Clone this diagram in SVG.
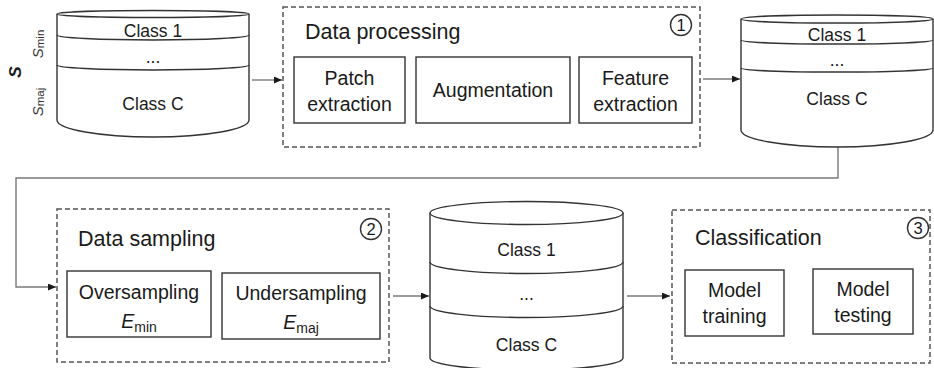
<svg xmlns="http://www.w3.org/2000/svg" width="934" height="368" viewBox="0 0 934 368">
<defs>
<style>
text{font-family:"Liberation Sans",Arial,sans-serif;fill:#1a1a1a}
.lbl{font-size:19.5px;text-anchor:middle}
.cls{font-size:17.5px;text-anchor:middle}
.ttl{font-size:21.5px}
.num{font-size:16.5px;text-anchor:middle}
.box{fill:#fff;stroke:#333;stroke-width:1.4}
.dash{fill:none;stroke:#555;stroke-width:1.5;stroke-dasharray:5 3}
.cyl{fill:#fff;stroke:#333;stroke-width:1.4}
.div{fill:none;stroke:#333;stroke-width:1.4}
.circ{fill:none;stroke:#333;stroke-width:1.4}
.con{fill:none;stroke:#7a7a7a;stroke-width:1.4}
</style>
<marker id="ah" markerUnits="userSpaceOnUse" markerWidth="9" markerHeight="8" refX="8" refY="3.5" orient="auto">
<path d="M0,0 L8,3.5 L0,7 z" fill="#1a1a1a"/>
</marker>
</defs>
<rect width="934" height="368" fill="#fff"/>

<g id="connectors">
<path class="con" d="M252,80 H282" marker-end="url(#ah)"/>
<path class="con" d="M703,79 H740" marker-end="url(#ah)"/>
<path class="con" d="M838,147 V178 H16 V287 H56" marker-end="url(#ah)"/>
<path class="con" d="M393,296 H429" marker-end="url(#ah)"/>
<path class="con" d="M627,296 H670" marker-end="url(#ah)"/>
</g>

<g id="labels-s">
<text transform="translate(21,72) rotate(-90)" style="font-size:17px;font-weight:bold;font-style:italic;text-anchor:middle">S</text>
<text transform="translate(43,44) rotate(-90)" style="font-size:15px;text-anchor:middle;fill:#333"><tspan font-style="italic">S</tspan><tspan font-size="11.5" dy="1">min</tspan></text>
<text transform="translate(43,102) rotate(-90)" style="font-size:15px;text-anchor:middle;fill:#333"><tspan font-style="italic">S</tspan><tspan font-size="11.5" dy="1">maj</tspan></text>
</g>

<g id="dataset-1">
<path class="cyl" d="M57,14 V120 A96,17 0 0 0 249,120 V14"/>
<ellipse class="cyl" cx="153" cy="14" rx="96" ry="3.5"/>
<path class="div" d="M57,35 A96,5 0 0 0 249,35"/>
<path class="div" d="M57,65 A96,5 0 0 0 249,65"/>
<text class="cls" x="153" y="37">Class 1</text>
<text class="cls" x="153" y="63">...</text>
<text class="cls" x="153" y="110">Class C</text>
</g>

<g id="data-processing">
<rect class="dash" x="283" y="7" width="417" height="140"/>
<text class="ttl" x="305" y="39">Data processing</text>
<circle class="circ" cx="681" cy="25" r="10.5"/>
<text class="num" x="681" y="31">1</text>
</g>
<g id="patch-extraction">
<rect class="box" x="294" y="57" width="111" height="66"/>
<text class="lbl" x="349.5" y="85">Patch</text>
<text class="lbl" x="349.5" y="111">extraction</text>
</g>
<g id="augmentation">
<rect class="box" x="416" y="57" width="154" height="66"/>
<text class="lbl" x="493" y="97">Augmentation</text>
</g>
<g id="feature-extraction">
<rect class="box" x="579" y="57" width="113" height="66"/>
<text class="lbl" x="635.5" y="85">Feature</text>
<text class="lbl" x="635.5" y="111">extraction</text>
</g>

<g id="dataset-2">
<path class="cyl" d="M741,19 V130 A96,17 0 0 0 933,130 V19"/>
<ellipse class="cyl" cx="837" cy="19" rx="96" ry="4"/>
<path class="div" d="M741,40 A96,4 0 0 0 933,40"/>
<path class="div" d="M741,68 A96,4 0 0 0 933,68"/>
<text class="cls" x="837" y="41">Class 1</text>
<text class="cls" x="837" y="66">...</text>
<text class="cls" x="837" y="105">Class C</text>
</g>

<g id="data-sampling">
<rect class="dash" x="57" y="209" width="332" height="153"/>
<text class="ttl" x="78" y="246">Data sampling</text>
<circle class="circ" cx="371" cy="229" r="10.5"/>
<text class="num" x="371" y="235">2</text>
</g>
<g id="oversampling">
<rect class="box" x="67" y="271" width="144" height="66"/>
<text class="lbl" x="139" y="299">Oversampling</text>
<text class="lbl" x="139" y="328"><tspan font-style="italic">E</tspan><tspan font-size="14" dy="4">min</tspan></text>
</g>
<g id="undersampling">
<rect class="box" x="222" y="273" width="158" height="66"/>
<text class="lbl" x="301" y="300">Undersampling</text>
<text class="lbl" x="301" y="329"><tspan font-style="italic">E</tspan><tspan font-size="14" dy="4">maj</tspan></text>
</g>

<g id="dataset-3">
<path class="cyl" d="M430,213 V358 A96.5,12 0 0 0 623,358 V213"/>
<ellipse class="cyl" cx="526.5" cy="213" rx="96.5" ry="11.5"/>
<path class="div" d="M430,262 A96.5,11.5 0 0 0 623,262"/>
<path class="div" d="M430,306 A96.5,11.5 0 0 0 623,306"/>
<text class="cls" x="526.5" y="256">Class 1</text>
<text class="cls" x="526.5" y="300">...</text>
<text class="cls" x="526.5" y="351">Class C</text>
</g>

<g id="classification">
<rect class="dash" x="672" y="210" width="258" height="153"/>
<text class="ttl" x="695" y="245">Classification</text>
<circle class="circ" cx="918" cy="228" r="10.5"/>
<text class="num" x="918" y="234">3</text>
</g>
<g id="model-training">
<rect class="box" x="685" y="270" width="99" height="66"/>
<text class="lbl" x="734.5" y="297">Model</text>
<text class="lbl" x="734.5" y="323">training</text>
</g>
<g id="model-testing">
<rect class="box" x="813" y="269" width="100" height="65"/>
<text class="lbl" x="863" y="296">Model</text>
<text class="lbl" x="863" y="322">testing</text>
</g>
</svg>
